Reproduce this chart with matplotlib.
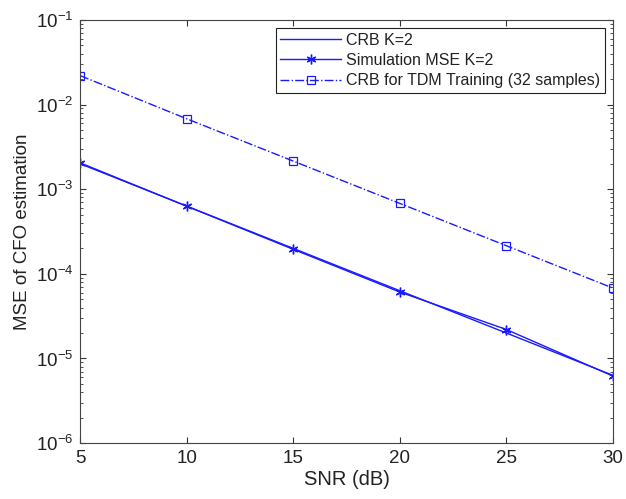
import matplotlib
matplotlib.use("Agg")
import matplotlib.pyplot as plt
from matplotlib.ticker import LogLocator, NullFormatter

snr = [5, 10, 15, 20, 25, 30]
crb = [2.0e-3, 6.32e-4, 2.0e-4, 6.32e-5, 2.0e-5, 6.32e-6]
sim = [2.05e-3, 6.3e-4, 1.95e-4, 6.1e-5, 2.2e-5, 6.2e-6]
tdm = [2.2e-2, 6.8e-3, 2.15e-3, 6.8e-4, 2.15e-4, 6.8e-5]
labels = ["CRB K=2", "Simulation MSE K=2", "CRB for TDM Training (32 samples)"]

plt.rcParams['font.family'] = ['Liberation Sans', 'DejaVu Sans']

fig = plt.figure(figsize=(6.26, 4.99), dpi=100)
ax = fig.add_axes([0.128, 0.112, 0.851, 0.848])

c = '#1a1aff'
ax.semilogy(snr, crb, '-', color=c, lw=1.0, label=labels[0])
ax.semilogy(snr, sim, '-', color=c, lw=1.0, marker=(6, 2, 0), ms=7, mew=1.0, label=labels[1])
ax.semilogy(snr, tdm, '-.', color=c, lw=1.0, marker='s', ms=6, mfc='none', mew=0.9, label=labels[2])

ax.set_xlim(5, 30)
ax.set_ylim(1e-6, 1e-1)
ax.set_xticks([5, 10, 15, 20, 25, 30])
ax.yaxis.set_major_locator(LogLocator(base=10, numticks=10))
ax.yaxis.set_minor_locator(LogLocator(base=10, subs=range(2, 10), numticks=10))
ax.yaxis.set_minor_formatter(NullFormatter())
ax.tick_params(direction='in', which='both', top=True, right=True, labelsize=13.5, colors='#333333', pad=5)
ax.tick_params(which='major', length=4)
ax.tick_params(which='minor', length=2)
for tl in ax.get_xticklabels() + ax.get_yticklabels():
    tl.set_color('#222222')
for s in ax.spines.values():
    s.set_color('#444444')
    s.set_linewidth(0.8)

ax.set_xlabel('SNR (dB)', fontsize=14.5, labelpad=2, color='#222222')
ax.set_ylabel('MSE of CFO estimation', fontsize=13.5, labelpad=3, color='#222222')

leg = ax.legend(loc='upper right', fontsize=11.5, fancybox=False, framealpha=1,
                edgecolor='#222222', borderpad=0.3, handlelength=3.8,
                handletextpad=0.3, labelspacing=0.33, borderaxespad=0.5)
leg.get_frame().set_linewidth(0.8)
for t in leg.get_texts():
    t.set_color('#222222')

fig.savefig('out.png', dpi=100)
